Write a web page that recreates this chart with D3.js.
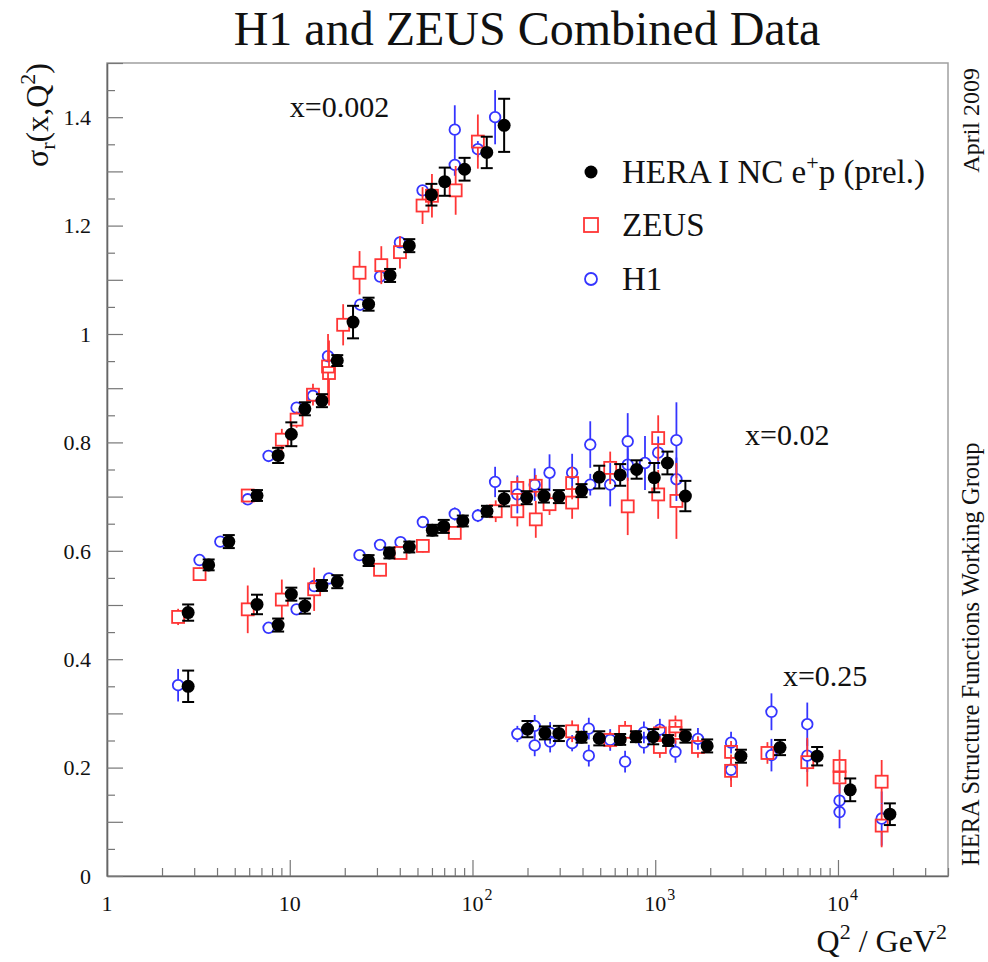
<!DOCTYPE html>
<html>
<head>
<meta charset="utf-8">
<script src="https://cdnjs.cloudflare.com/ajax/libs/d3/7.8.5/d3.min.js"></script>
<style>
  body { margin: 0; background: #fff; }
  svg { display: block; font-family: "Liberation Serif", "Times New Roman", serif; }
</style>
</head>
<body>
<div id="chart"></div>
<script>
// points are [Q2, sigma_r, error]
const heraX0002 = [[2.78,0.486,0.015],[3.6,0.574,0.01],[4.64,0.617,0.012],[6.62,0.702,0.01],[8.64,0.776,0.014],
  [10.2,0.815,0.022],[12.1,0.862,0.012],[15.0,0.877,0.012],[18.2,0.951,0.01],[22.2,1.022,0.03],[27,1.055,0.012],
  [35.4,1.108,0.012],[45.1,1.163,0.012],[59.6,1.257,0.02],[70.5,1.281,0.026],[90.5,1.304,0.021],[119.7,1.335,0.029],
  [149,1.385,0.049]];
const zeusX0002 = [[2.45,0.478,0.015],[3.21,0.557,0.012],[5.89,0.702,0.012],[9.05,0.805,0.02],[10.9,0.842,0.015],
  [13.4,0.888,0.02],[16.2,0.940,0.06],[16.4,0.928,0.06],[19.6,1.017,0.038],[24.1,1.113,0.04],[31.7,1.127,0.035],
  [40.1,1.151,0.03],[53.3,1.237,0.034],[60,1.255,0.04],[80.9,1.265,0.045],[107,1.355,0.05]];
const h1X0002 = [[3.21,0.583,0.01],[4.17,0.617,0.01],[5.89,0.695,0.01],[7.66,0.775,0.01],[10.9,0.864,0.01],
  [13.4,0.886,0.01],[16.2,0.959,0.01],[24.3,1.054,0.01],[31.2,1.106,0.01],[40.1,1.169,0.01],[53.3,1.265,0.01],
  [80,1.312,0.02],[80,1.377,0.045],[107,1.341,0.015],[133,1.400,0.05]];

const heraX002 = [[2.78,0.350,0.029],[6.62,0.501,0.018],[8.64,0.463,0.012],[10.2,0.520,0.012],[12.1,0.498,0.014],
  [15.0,0.536,0.01],[18.2,0.543,0.012],[27,0.582,0.01],[35.1,0.596,0.01],[45.1,0.607,0.01],[60.3,0.638,0.01],
  [69.6,0.645,0.012],[88.5,0.655,0.01],[120,0.673,0.01],[149,0.696,0.014],[198,0.698,0.012],[246,0.701,0.012],
  [297,0.700,0.012],[395,0.711,0.012],[494,0.736,0.021],[643,0.740,0.02],[791,0.750,0.017],[988,0.735,0.027],
  [1166,0.762,0.021],[1462,0.701,0.028]];
const zeusX002 = [[5.89,0.492,0.044],[9.05,0.510,0.037],[13.6,0.529,0.04],[31.2,0.565,0.012],[40.4,0.596,0.01],
  [53.5,0.609,0.012],[80,0.633,0.012],[134,0.673,0.02],[176,0.673,0.028],[176,0.716,0.02],[222,0.658,0.034],
  [222,0.720,0.02],[264,0.686,0.02],[351,0.725,0.03],[351,0.689,0.03],[567,0.753,0.03],[707,0.682,0.053],
  [1038,0.808,0.042],[1038,0.704,0.045],[1306,0.692,0.07]];
const h1X002 = [[2.45,0.352,0.03],[7.66,0.458,0.01],[10.9,0.492,0.01],[13.6,0.535,0.01],[16.4,0.549,0.01],
  [24.1,0.592,0.01],[31.2,0.611,0.01],[40.4,0.616,0.01],[53.5,0.653,0.01],[80,0.668,0.012],[107,0.665,0.012],
  [133,0.727,0.028],[176,0.704,0.035],[219,0.722,0.03],[264,0.744,0.034],[351,0.744,0.035],[441,0.796,0.043],
  [441,0.722,0.02],[567,0.722,0.04],[707,0.802,0.052],[707,0.759,0.03],[879,0.762,0.05],[1038,0.781,0.03],
  [1306,0.804,0.07],[1306,0.732,0.04]];

const heraX025 = [[200,0.271,0.015],[249,0.264,0.012],[297,0.263,0.014],[395,0.256,0.01],[494,0.254,0.013],
  [643,0.252,0.01],[784,0.257,0.01],[975,0.257,0.014],[1177,0.250,0.01],[1462,0.258,0.012],[1924,0.240,0.012],
  [2944,0.221,0.012],[4819,0.237,0.014],[7690,0.221,0.017],[11670,0.159,0.021],[19230,0.114,0.02]];
const zeusX025 = [[351,0.267,0.02],[567,0.251,0.015],[684,0.266,0.02],[1060,0.263,0.015],[1060,0.238,0.02],
  [1290,0.276,0.02],[1290,0.264,0.02],[1713,0.238,0.02],[2600,0.229,0.02],[2600,0.194,0.03],[4111,0.227,0.02],
  [6792,0.210,0.045],[10200,0.203,0.03],[10200,0.182,0.03],[17340,0.174,0.04],[17340,0.093,0.04]];
const h1X025 = [[176,0.262,0.015],[219,0.277,0.02],[219,0.241,0.02],[266,0.264,0.02],[266,0.248,0.02],
  [351,0.245,0.015],[433,0.272,0.02],[433,0.222,0.02],[567,0.251,0.02],[684,0.211,0.02],[867,0.265,0.02],
  [867,0.246,0.02],[1060,0.270,0.02],[1290,0.229,0.02],[1713,0.253,0.02],[2600,0.246,0.02],[2600,0.196,0.02],
  [4325,0.303,0.034],[4325,0.223,0.03],[6792,0.280,0.04],[6792,0.222,0.03],[10200,0.139,0.03],[10200,0.118,0.03],
  [17340,0.106,0.05]];

// label anchor in data coordinates (left end, baseline)
const binLabels = [
  {text: "x=0.002", q2: 10.0, s: 1.400},
  {text: "x=0.02", q2: 3100, s: 0.795},
  {text: "x=0.25", q2: 5000, s: 0.350}
];
const legendItems = ["HERA I NC e+p (prel.)", "ZEUS", "H1"];

const red = "#ff3535", blue = "#3535ff";

const svg = d3.select("#chart").append("svg")
    .attr("width", 988)
    .attr("height", 962);

const x = d3.scaleLog().domain([1, 40000]).range([107, 948]);
const y = d3.scaleLinear().domain([0, 1.5]).range([876, 63]);

// frame
svg.append("rect")
    .attr("x", x.range()[0]).attr("y", y.range()[1])
    .attr("width", x.range()[1] - x.range()[0])
    .attr("height", y.range()[0] - y.range()[1])
    .attr("fill", "none").attr("stroke", "#a0a0a0").attr("stroke-width", 1.5);

const isDecade = d => Math.abs(Math.log10(d) - Math.round(Math.log10(d))) < 1e-9;

// x axis, ticks pointing inward
const gx = svg.append("g").attr("transform", `translate(0,${y.range()[0]})`)
    .call(d3.axisBottom(x).tickValues(x.ticks()).tickFormat("").tickSizeOuter(0));
gx.select(".domain").attr("stroke", "#666").attr("stroke-width", 1.6);
gx.selectAll(".tick line").attr("y2", d => isDecade(d) ? -16 : -8).attr("stroke", "#777").attr("stroke-width", 1.2);

const xl = svg.append("g").style("font-size", "22px").attr("fill", "#111");
x.ticks().filter(isDecade).forEach(d => {
  const e = Math.round(Math.log10(d));
  xl.append("text").attr("x", x(d)).attr("y", 911).attr("text-anchor", "middle")
      .text(e === 0 ? "1" : "10");
  if (e > 1) {
    xl.append("text").attr("x", x(d) + 12).attr("y", 900).style("font-size", "16px").text(e);
  }
});

// y axis
const yTicks = d3.range(0, 31).map(i => i * 0.05);
const gy = svg.append("g").attr("transform", `translate(${x.range()[0]},0)`)
    .call(d3.axisLeft(y).tickValues(yTicks).tickFormat("").tickSizeOuter(0));
gy.select(".domain").attr("stroke", "#666").attr("stroke-width", 1.6);
gy.selectAll(".tick line").attr("x2", (d, i) => i % 2 === 0 ? 16 : 8).attr("stroke", "#777").attr("stroke-width", 1.2);

const yl = svg.append("g").style("font-size", "22px").attr("fill", "#111");
d3.range(0, 8).map(i => +(i * 0.2).toFixed(1)).forEach(d => {
  yl.append("text").attr("x", 91).attr("y", y(d)).attr("dy", "0.35em")
      .attr("text-anchor", "end").text(d3.format("~g")(d));
});

// markers
function errorBar(g, d, gap, color, caps) {
  const cx = x(d[0]), cy = y(d[1]);
  const top = y(d[1] + d[2]), bot = y(d[1] - d[2]);
  if (cy - gap > top) g.append("line").attr("x1", cx).attr("x2", cx).attr("y1", top).attr("y2", cy - gap)
      .attr("stroke", color).attr("stroke-width", caps ? 2 : 1.8);
  if (cy + gap < bot) g.append("line").attr("x1", cx).attr("x2", cx).attr("y1", cy + gap).attr("y2", bot)
      .attr("stroke", color).attr("stroke-width", caps ? 2 : 1.8);
  if (caps && top < cy - gap) {
    [top, bot].forEach(v => g.append("line").attr("x1", cx - 6).attr("x2", cx + 6)
        .attr("y1", v).attr("y2", v).attr("stroke", color).attr("stroke-width", 2));
  }
}

const gBlue = svg.append("g"), gRed = svg.append("g"), gBlack = svg.append("g");

[h1X0002, h1X002, h1X025].forEach(arr => arr.forEach(d => {
  errorBar(gBlue, d, 5.5, blue, false);
  gBlue.append("circle").attr("cx", x(d[0])).attr("cy", y(d[1])).attr("r", 5.3)
      .attr("fill", "none").attr("stroke", blue).attr("stroke-width", 1.8);
}));

[zeusX0002, zeusX002, zeusX025].forEach(arr => arr.forEach(d => {
  errorBar(gRed, d, 6, red, false);
  gRed.append("rect").attr("x", x(d[0]) - 6).attr("y", y(d[1]) - 6).attr("width", 12).attr("height", 12)
      .attr("fill", "none").attr("stroke", red).attr("stroke-width", 1.8);
}));

[heraX0002, heraX002, heraX025].forEach(arr => arr.forEach(d => {
  errorBar(gBlack, d, 0, "#000", true);
  gBlack.append("circle").attr("cx", x(d[0])).attr("cy", y(d[1])).attr("r", 6.5).attr("fill", "#000");
}));

// bin labels
binLabels.forEach(b => {
  svg.append("text").attr("x", x(b.q2)).attr("y", y(b.s)).attr("text-anchor", "start")
      .style("font-size", "30px").attr("fill", "#111").text(b.text);
});

// legend
const lg = svg.append("g").attr("transform", "translate(591,0)");
const rows = [172, 225, 279];
lg.append("circle").attr("cx", 0).attr("cy", rows[0]).attr("r", 6.5).attr("fill", "#000");
lg.append("rect").attr("x", -7).attr("y", rows[1] - 7).attr("width", 14).attr("height", 14)
    .attr("fill", "none").attr("stroke", red).attr("stroke-width", 1.8);
lg.append("circle").attr("cx", 0).attr("cy", rows[2]).attr("r", 6).attr("fill", "none")
    .attr("stroke", blue).attr("stroke-width", 1.8);
const t0 = lg.append("text").attr("x", 31).attr("y", rows[0] + 11).style("font-size", "33px").attr("fill", "#111");
t0.append("tspan").text("HERA I NC e");
t0.append("tspan").attr("dy", -13).style("font-size", "22px").text("+");
t0.append("tspan").attr("dy", 13).text("p (prel.)");
legendItems.slice(1).forEach((s, i) => {
  lg.append("text").attr("x", 31).attr("y", rows[i + 1] + 11).style("font-size", "33px").attr("fill", "#111").text(s);
});

// title
svg.append("text").attr("x", 527).attr("y", 45).attr("text-anchor", "middle")
    .style("font-size", "48px").attr("fill", "#111").text("H1 and ZEUS Combined Data");

// y title
const yt = svg.append("text").attr("transform", "translate(48,63) rotate(-90)")
    .attr("text-anchor", "end").style("font-size", "32px").attr("fill", "#111");
yt.append("tspan").text("σ");
yt.append("tspan").attr("dy", 7).style("font-size", "22px").text("r");
yt.append("tspan").attr("dy", -7).text("(x,Q");
yt.append("tspan").attr("dy", -13).style("font-size", "22px").text("2");
yt.append("tspan").attr("dy", 13).text(")");

// x title
const xt = svg.append("text").attr("x", 947).attr("y", 952).attr("text-anchor", "end")
    .style("font-size", "32px").attr("fill", "#111");
xt.append("tspan").text("Q");
xt.append("tspan").attr("dy", -13).style("font-size", "22px").text("2");
xt.append("tspan").attr("dy", 13).text(" / GeV");
xt.append("tspan").attr("dy", -13).style("font-size", "22px").text("2");

// side notes
svg.append("text").attr("transform", "translate(979,68) rotate(-90)").attr("text-anchor", "end")
    .style("font-size", "24px").attr("fill", "#111").text("April 2009");
svg.append("text").attr("transform", "translate(979,866) rotate(-90)").attr("text-anchor", "start")
    .style("font-size", "24.5px").attr("fill", "#111").text("HERA Structure Functions Working Group");
</script>
</body>
</html>
